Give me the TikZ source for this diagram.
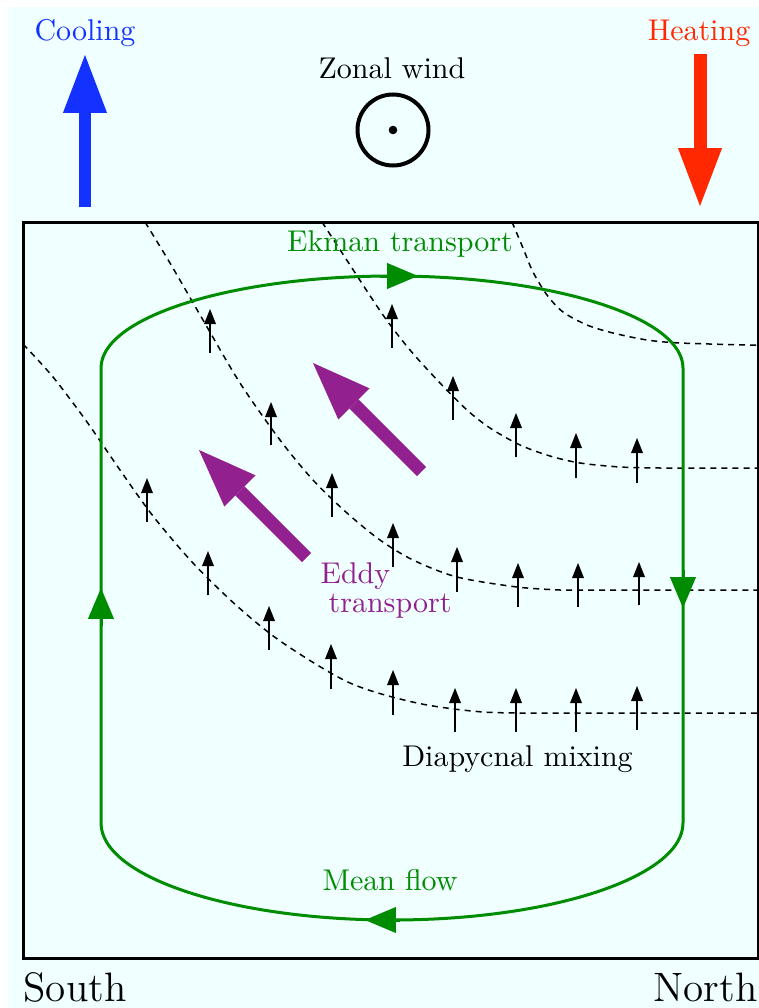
\documentclass[tikz,border=0pt]{standalone}
\usetikzlibrary{arrows.meta}
\definecolor{bgcyan}{RGB}{240,255,255}
\definecolor{coolblue}{RGB}{20,50,255}
\definecolor{heatred}{RGB}{255,40,0}
\definecolor{flowgreen}{RGB}{0,140,0}
\definecolor{eddypurple}{RGB}{146,32,142}
\begin{document}
\begin{tikzpicture}[x=0.33333pt,y=-0.33333pt,
  bigarrow/.style={line width=4.33pt,-{Triangle[length=19.3pt,width=14.7pt,line width=0pt]}},
  smallarrow/.style={line width=0.67pt,-{Triangle[length=5pt,width=4pt,line width=0pt]}},
  loopline/.style={flowgreen,line width=1pt},
  looptip/.style={flowgreen,line width=1pt,-{Triangle[length=10.3pt,width=8.7pt,line width=0pt]}},
  isopycnal/.style={line width=0.5pt,dash pattern=on 2pt off 1.67pt},
  lbl/.style={inner sep=0pt,anchor=base},
]
\useasboundingbox (0,0) rectangle (759,1008);
\fill[bgcyan] (8,7) rectangle (759,1008);

% isopycnals
\draw[isopycnal] plot[smooth] coordinates {(512,222) (523,248) (533,272) (547,295) (563,312) (587,325) (613,333) (647,340) (680,343) (747,345)} -- (759,345);
\draw[isopycnal] plot[smooth] coordinates {(322,222) (350,265) (383,315) (410,350) (440,383) (467,410) (490,428) (520,445) (550,456) (580,463) (620,467) (660,468)} -- (759,468);
\draw[isopycnal] plot[smooth] coordinates {(145,222) (170,263) (203,320) (240,383) (280,440) (313,480) (347,513) (380,540) (413,560) (457,577) (517,587) (560,590)} -- (759,590);
\draw[isopycnal] plot[smooth] coordinates {(23,344) (53,377) (87,422) (120,470) (153,516) (193,563) (237,606) (283,643) (350,683) (417,703) (483,712) (550,713)} -- (759,713);

% diapycnal mixing arrows
\foreach \x/\a/\b in {147/478/522, 208/551/595, 269/606/650, 331/644/689, 393/670/715, 455/688/732, 516/688/732, 576/688/732, 637/686/730,
  210/309/353, 271/402/445, 332/473/517, 393/523/567, 457/547/592, 518/563/607, 578/563/607, 639/562/605,
  392/304/348, 453/376/420, 516/413/457, 576/433/478, 637/438/483}
  \draw[smallarrow] (\x,\b) -- (\x,\a);

% mean flow loop
\draw[loopline] (101,368) .. controls (101,317.2) and (231.3,276) .. (392,276)
  .. controls (552.7,276) and (683,317.2) .. (683,368) -- (683,823)
  .. controls (683,876.6) and (552.7,920) .. (392,920)
  .. controls (231.3,920) and (101,876.6) .. (101,823) -- cycle;
\draw[looptip] (380,276) -- (418,276);
\draw[looptip] (683,570) -- (683,608);
\draw[looptip] (400,920) -- (365,920);
\draw[looptip] (101,626) -- (101,588);

% eddy transport arrows
\draw[bigarrow,eddypurple] (421.5,471.5) -- (313,363);
\draw[bigarrow,eddypurple] (306.5,557.5) -- (199,450);

% cooling / heating
\draw[bigarrow,coolblue] (85,207) -- (85,55);
\draw[bigarrow,heatred] (700,54) -- (700,206);

% zonal wind symbol
\node[circle,draw,line width=1.33pt,inner sep=0pt,minimum size=23.67pt] (wind) at (393,130) {};
\fill (wind.center) circle[radius=4.3];

% labels
\node[lbl,text=coolblue] (cooling) at (85,40.5) {Cooling};
\node[lbl,text=heatred] (heating) at (699,40.5) {Heating};
\node[lbl] (zonal) at (392,78) {Zonal wind};
\node[lbl,text=flowgreen] (ekman) at (400,251) {Ekman transport};
\node[lbl,anchor=base west,text=eddypurple] (eddy1) at (320,583) {Eddy};
\node[lbl,anchor=base west,text=eddypurple] (eddy2) at (328,612) {transport};
\node[lbl] (mixing) at (517.5,766) {Diapycnal mixing};
\node[lbl,text=flowgreen] (meanflow) at (390,890) {Mean flow};
\node[lbl,anchor=base west,font=\fontsize{13.7}{16}\selectfont] (south) at (23,1001) {South};
\node[lbl,anchor=base east,font=\fontsize{13.7}{16}\selectfont] (north) at (758,1001) {North};

% basin box
\draw[line width=1pt] (23,222) rectangle (758,958);
\end{tikzpicture}
\end{document}
